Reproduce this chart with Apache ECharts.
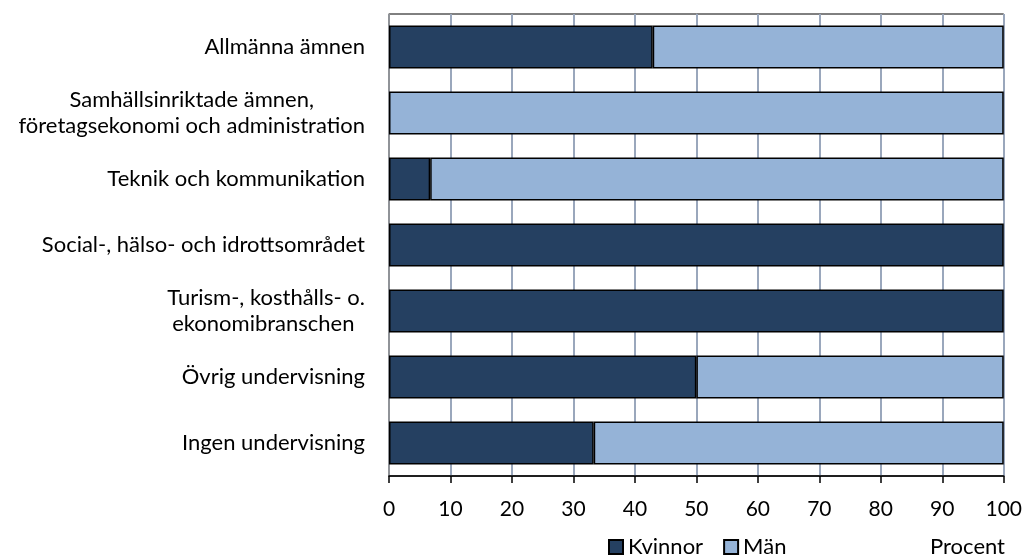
<!DOCTYPE html>
<html>
<head>
<meta charset="utf-8">
<script src="https://cdn.jsdelivr.net/npm/echarts@6/dist/echarts.min.js"></script>
<style>
html,body{margin:0;padding:0;background:#fff;}
#chart{width:1025px;height:558px;}
</style>
</head>
<body>
<div id="chart"></div>
<script>
const categories = [
  'Allmänna ämnen',
  'Samhällsinriktade ämnen,\nföretagsekonomi och administration',
  'Teknik och kommunikation',
  'Social-, hälso- och idrottsområdet',
  'Turism-, kosthålls- o.\nekonomibranschen ',
  'Övrig undervisning',
  'Ingen undervisning'
];
const kvinnor = [42.9, 0, 6.7, 100, 100, 50, 33.3];
const man = [57.1, 100, 93.3, 0, 0, 50, 66.7];
const xTicks = [0, 10, 20, 30, 40, 50, 60, 70, 80, 90, 100];

const FONT = 'Lato';
const FS = 22;
const nz = arr => arr.map(v => (v === 0 ? null : v));
const chart = echarts.init(document.getElementById('chart'), null, {renderer: 'canvas'});
chart.setOption({
  animation: false,
  textStyle: {fontFamily: FONT},
  grid: {left: 389, right: 20, top: 14, bottom: 82, show: true, borderColor: '#000', borderWidth: 1},
  xAxis: {
    type: 'value', min: xTicks[0], max: xTicks[xTicks.length - 1], interval: 10,
    axisLine: {show: true, lineStyle: {color: '#000', width: 1.5}},
    axisTick: {show: true, length: 7, lineStyle: {color: '#000', width: 1.5}},
    splitLine: {show: true, lineStyle: {color: '#9aa7bc', width: 2}},
    axisLabel: {color: '#000', fontSize: 21, fontFamily: FONT, margin: 23}
  },
  yAxis: {
    type: 'category', data: categories, inverse: true,
    axisLine: {show: true, lineStyle: {color: '#8c8c8c', width: 1.5}},
    axisTick: {show: false},
    axisLabel: {
      color: '#000', fontSize: FS, fontFamily: FONT, margin: 24, lineHeight: 26,
      formatter: function (v) { return v.split('\n').map(s => '{c|' + s + '}').join('\n'); },
      rich: {c: {align: 'center', fontSize: FS, fontFamily: FONT, color: '#000', lineHeight: 26}}
    }
  },
  legend: {
    left: 603, top: 531, itemWidth: 14, itemHeight: 14, itemGap: 20, icon: 'rect',
    textStyle: {fontSize: FS, color: '#000', fontFamily: FONT},
    data: ['Kvinnor', 'Män']
  },
  graphic: [{type: 'text', right: 20, top: 536, style: {text: 'Procent', fontSize: FS, fontFamily: FONT, fill: '#000'}}],
  series: [
    {name: 'Kvinnor', type: 'bar', stack: 's', data: nz(kvinnor), barCategoryGap: '35%',
     itemStyle: {color: '#254061', borderColor: '#000', borderWidth: 1.5}},
    {name: 'Män', type: 'bar', stack: 's', data: nz(man),
     itemStyle: {color: '#95b3d7', borderColor: '#000', borderWidth: 1.5}}
  ]
});
</script>
</body>
</html>
